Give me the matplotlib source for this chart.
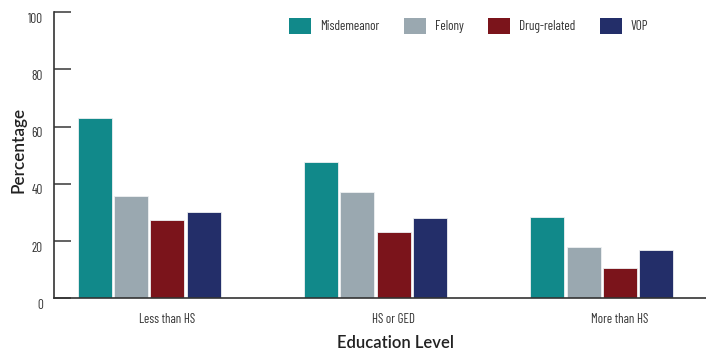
import matplotlib
matplotlib.use("Agg")
import matplotlib.pyplot as plt
import matplotlib.transforms as mtransforms
import numpy as np
from matplotlib.patches import Patch
from matplotlib import font_manager
from matplotlib.font_manager import FontProperties

categories = ["Less than HS", "HS or GED", "More than HS"]
series_names = ["Misdemeanor", "Felony", "Drug-related", "VOP"]
misdemeanor = [62.9, 47.5, 28.3]
felony = [35.7, 37.3, 18.0]
drug_related = [27.2, 23.0, 10.5]
vop = [30.1, 27.9, 16.9]
y_ticks = [0, 20, 40, 60, 80, 100]

colors = ["#11898a", "#9aa8b0", "#7b141b", "#232e69"]

entries = font_manager.fontManager.ttflist
names = {f.name for f in entries}
def pick(*cands):
    for c in cands:
        if c in names:
            return c
    return "DejaVu Sans"
narrow = pick("Barlow Condensed", "Asap Condensed", "Archivo Narrow", "Roboto")
nfam = [narrow, "DejaVu Sans"]

def label_props(size):
    for cand in ["Montserrat", "Lato", "Open Sans"]:
        best = None
        for f in entries:
            if f.name == cand and f.style == "normal":
                try:
                    w = int(f.weight)
                except (TypeError, ValueError):
                    w = {"bold": 700, "semibold": 600, "normal": 400}.get(str(f.weight), 400)
                if 550 <= w <= 700 and "Italic" not in f.fname:
                    d = abs(w - 600)
                    if best is None or d < best[0]:
                        best = (d, f.fname)
        if best is not None:
            return FontProperties(fname=best[1], size=size)
    return FontProperties(family="DejaVu Sans", weight="bold", size=size)

W, H = 706, 352
fig = plt.figure(figsize=(W / 100, H / 100), dpi=100)
ax = fig.add_axes([54 / W, 1 - 298.3 / H, 1 - 54 / W, (298.3 - 12) / H])

x = np.arange(len(categories))
step = 0.1606
width = 0.150
all_series = [misdemeanor, felony, drug_related, vop]
for i, (vals, c) in enumerate(zip(all_series, colors)):
    ax.bar(x + (i - 1.5) * step, vals, width=width, color=c, edgecolor="#eef0f2",
           linewidth=0.6, zorder=2)

ax.set_xlim(-0.42, 2.46)
ax.set_ylim(0, 100)
ax.set_yticks(y_ticks)
ax.set_yticklabels([str(t) for t in y_ticks], family=nfam, fontsize=9.5, color="#333333")
ax.tick_params(axis="y", direction="in", length=12, width=1.3, color="#555555", pad=8)
shift = mtransforms.ScaledTranslation(0, -4 / 72, fig.dpi_scale_trans)
for lbl in ax.get_yticklabels():
    lbl.set_transform(lbl.get_transform() + shift)
ax.set_xticks(x + 0.08)
ax.set_xticklabels(categories, family=nfam, fontsize=9.3, color="#333333")
ax.tick_params(axis="x", length=0, pad=10.5)

for s in ["top", "right"]:
    ax.spines[s].set_visible(False)
for s in ["left", "bottom"]:
    ax.spines[s].set_color("#333333")
    ax.spines[s].set_linewidth(1.2)

fig.text(19 / W, 1 - 150 / H, "Percentage", rotation=90, ha="center", va="center",
         fontproperties=label_props(12.3), color="#222222")
fig.text(395 / W, 1 - 343 / H, "Education Level", ha="center", va="center",
         fontproperties=label_props(12), color="#222222")

handles = [Patch(facecolor=c, edgecolor="none") for c in colors]
fig.legend(handles, series_names, loc="center left", bbox_to_anchor=(289 / W, 1 - 26 / H),
           ncol=4, frameon=False, borderpad=0, borderaxespad=0,
           handlelength=1.7, handleheight=1.6, handletextpad=0.65, columnspacing=1.85,
           prop={"family": nfam, "size": 9.5}, labelcolor="#333333")

fig.savefig("out.png", dpi=100)
